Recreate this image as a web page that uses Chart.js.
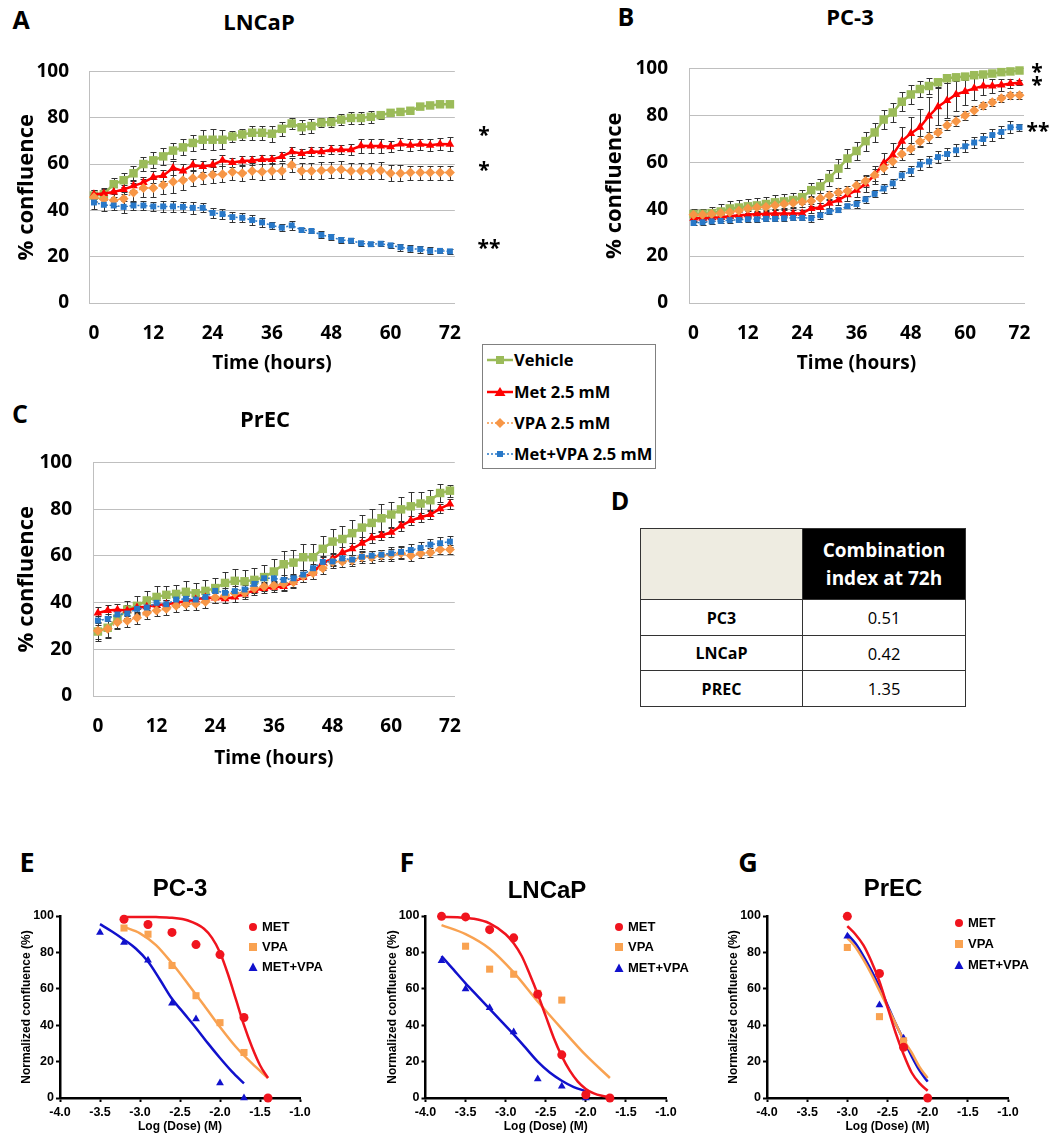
<!DOCTYPE html>
<html><head><meta charset="utf-8">
<script src="https://cdn.jsdelivr.net/npm/chart.js@4.4.1/dist/chart.umd.min.js"></script>
<style>
html,body{margin:0;padding:0;background:#fff}
body{position:relative;width:1056px;height:1139px;overflow:hidden;font-family:"Open Sans",Lato,sans-serif;color:#000}
canvas{position:absolute}
.t{position:absolute;transform:translate(-50%,-50%);line-height:1;white-space:nowrap;font-weight:bold}
.lab{font-size:25px}
.lab2{font-size:27px}
.ttl{font-size:22px}
.gp{font-family:"Liberation Sans",Arial,sans-serif}
.gpt{font-size:24px}
.ast{font-size:21px}
#legABC{position:absolute;left:482px;top:344px;width:172px;height:123px;border:1px solid #808080;background:#fff}
#legABC .row{position:absolute;left:0;height:20px;width:170px}
#legABC svg{position:absolute;left:4px;top:3px}
#legABC span{position:absolute;left:31px;top:0;line-height:20px;font-size:16.5px;font-weight:bold}
.gleg{position:absolute;font-family:"Liberation Sans",Arial,sans-serif;font-weight:bold;font-size:13px}
.gleg .row{position:absolute;left:0;height:16px;width:90px}
.gleg svg{position:absolute;left:-12px;top:1px}
.gleg span{position:absolute;left:3px;top:0;line-height:16px}
#tbl{position:absolute;left:640px;top:528px;border-collapse:collapse;table-layout:fixed}
#tbl td{border:1.5px solid #333;padding:0;text-align:center;vertical-align:middle}
</style></head>
<body>
<canvas id="cA" width="480" height="340" style="left:0;top:40px"></canvas>
<canvas id="cB" width="476" height="344" style="left:580px;top:36px"></canvas>
<canvas id="cC" width="480" height="350" style="left:0;top:430px"></canvas>
<canvas id="cE" width="350" height="239" style="left:0;top:900px"></canvas>
<canvas id="cF" width="350" height="239" style="left:350px;top:900px"></canvas>
<canvas id="cG" width="356" height="239" style="left:700px;top:900px"></canvas>

<div class="t lab" style="left:21px;top:19px">A</div>
<div class="t ttl" style="left:259px;top:21px">LNCaP</div>
<div class="t lab" style="left:626px;top:16px">B</div>
<div class="t ttl" style="left:850px;top:16px">PC-3</div>
<div class="t lab" style="left:20px;top:413px">C</div>
<div class="t ttl" style="left:265px;top:418px">PrEC</div>
<div class="t lab" style="left:620px;top:500px">D</div>
<div class="t lab2" style="left:27px;top:861px">E</div>
<div class="t lab2" style="left:407px;top:861px">F</div>
<div class="t lab2" style="left:748px;top:861px">G</div>
<div class="t gp gpt" style="left:180px;top:888px">PC-3</div>
<div class="t gp gpt" style="left:547px;top:890px">LNCaP</div>
<div class="t gp gpt" style="left:893px;top:888px">PrEC</div>

<div class="t ast" style="left:484px;top:134px">*</div>
<div class="t ast" style="left:484px;top:169px">*</div>
<div class="t ast" style="left:489px;top:247px">**</div>
<div class="t ast" style="left:1037px;top:71px">*</div>
<div class="t ast" style="left:1037px;top:84px">*</div>
<div class="t ast" style="left:1038px;top:130px">**</div>

<div id="legABC">
 <div class="row" style="top:5px"><svg width="26" height="14"><line x1="0" y1="7" x2="26" y2="7" stroke="#9BBB59" stroke-width="2.5"/><rect x="9" y="3" width="8" height="8" fill="#9BBB59"/></svg><span>Vehicle</span></div>
 <div class="row" style="top:37px"><svg width="26" height="14"><line x1="0" y1="7" x2="26" y2="7" stroke="#FF0000" stroke-width="2.5"/><polygon points="13,2 18.5,11 7.5,11" fill="#FF0000"/></svg><span>Met 2.5 mM</span></div>
 <div class="row" style="top:68px"><svg width="26" height="14"><line x1="0" y1="7" x2="26" y2="7" stroke="#F79646" stroke-width="1.5" stroke-dasharray="2,2"/><polygon points="13,2 18,7 13,12 8,7" fill="#F79646"/></svg><span>VPA 2.5 mM</span></div>
 <div class="row" style="top:99px"><svg width="26" height="14"><line x1="0" y1="7" x2="26" y2="7" stroke="#2878C8" stroke-width="1.5" stroke-dasharray="2,2"/><rect x="10" y="4" width="6" height="6" fill="#2878C8"/></svg><span>Met+VPA 2.5 mM</span></div>
</div>

<div class="gleg" style="left:259px;top:919px">
 <div class="row" style="top:0"><svg width="12" height="14"><circle cx="6" cy="7" r="4" fill="#F0141E"/></svg><span>MET</span></div>
 <div class="row" style="top:20px"><svg width="12" height="14"><rect x="2" y="3" width="8" height="8" fill="#F9A251"/></svg><span>VPA</span></div>
 <div class="row" style="top:40px"><svg width="12" height="14"><polygon points="6,2.5 10.5,11 1.5,11" fill="#1111CC"/></svg><span>MET+VPA</span></div>
</div>
<div class="gleg" style="left:625px;top:919px">
 <div class="row" style="top:0"><svg width="12" height="14"><circle cx="6" cy="7" r="4" fill="#F0141E"/></svg><span>MET</span></div>
 <div class="row" style="top:20px"><svg width="12" height="14"><rect x="2" y="3" width="8" height="8" fill="#F9A251"/></svg><span>VPA</span></div>
 <div class="row" style="top:41px"><svg width="12" height="14"><polygon points="6,2.5 10.5,11 1.5,11" fill="#1111CC"/></svg><span>MET+VPA</span></div>
</div>
<div class="gleg" style="left:965px;top:915px">
 <div class="row" style="top:0"><svg width="12" height="14"><circle cx="6" cy="7" r="4" fill="#F0141E"/></svg><span>MET</span></div>
 <div class="row" style="top:21px"><svg width="12" height="14"><rect x="2" y="3" width="8" height="8" fill="#F9A251"/></svg><span>VPA</span></div>
 <div class="row" style="top:42px"><svg width="12" height="14"><polygon points="6,2.5 10.5,11 1.5,11" fill="#1111CC"/></svg><span>MET+VPA</span></div>
</div>

<table id="tbl">
 <tr style="height:71px"><td style="width:161px;background:#EEECE1"></td><td style="width:162px;background:#000;color:#fff;font-weight:bold;font-size:19px;line-height:28px">Combination<br>index at 72h</td></tr>
 <tr style="height:36px"><td style="font-weight:bold;font-size:16px">PC3</td><td style="font-size:16.5px">0.51</td></tr>
 <tr style="height:35px"><td style="font-weight:bold;font-size:16px">LNCaP</td><td style="font-size:16.5px">0.42</td></tr>
 <tr style="height:36px"><td style="font-weight:bold;font-size:16px">PREC</td><td style="font-size:16.5px">1.35</td></tr>
</table>

<script>
// ---------- time-course data (hours) ----------
const hourLabels = ['0','2','4','6','8','10','12','14','16','18','20','22','24','26','28','30','32','34','36','38','40','42','44','46','48','50','52','54','56','58','60','62','64','66','68','70','72'];

// Panel A: LNCaP
const lncapVehicle = [46.4,47,51.3,53,56,60,61.6,63.3,65.8,67.2,69.1,70.5,70.5,70.5,71.9,72.8,73.5,73.5,73.1,75.2,77.5,75.9,76.4,77.9,78.1,79.2,79.9,79.9,80.4,81.1,82.1,82.5,83,84.8,85.3,85.8,85.8];
const lncapVehicleErr = [2.5,2.5,2.5,3,3,3,3.5,3.5,3.5,3.5,3.5,4,4.5,4,2.5,2.5,3,3,3.5,3,2.5,3,3,2,2,2.5,2.5,2.5,2.5,1.5,1,0.8,0.8,0.8,0.8,0.8,0.8];
const lncapMet = [47,47.3,47.9,49,50.6,52,54.3,55,58.3,57,59.6,58.9,59.6,61.6,60.7,61.3,61.5,62,62,63.3,65.3,64.6,65.4,65.3,66.2,66.2,66.2,67.9,67.8,67.8,67.5,68.6,68.1,68.5,68.1,68.6,68.5];
const lncapMetErr = [2,2,2,2,2,2.5,2.5,2.5,3,3,2.5,2.5,2.5,2.5,2,2,2,2,2,2,2,2,2,2,2,2,2.5,3,3,3,2.5,2.5,2.5,2.5,2.5,2.5,3];
const lncapVpa = [45.7,44.8,44.4,45,47.7,49.7,49.7,51,52.3,53,53.9,54.7,55.4,55.6,56.6,56,57,56.7,57,57,59.6,57,57,57.2,57.4,57.6,57,57,57,57.2,56,56,56.3,56.3,56.3,56.3,56.3];
const lncapVpaErr = [2,2.5,2.5,3,4,4,4,4,5,4,3.5,3.5,3.5,3.5,3.5,3.5,3.5,3.5,3.5,3.5,3,3.5,3.5,3.5,3.5,3.5,3.5,3.5,3.5,3.5,3.5,3.5,3,3,3,3,3];
const lncapCombo = [43.4,42.4,42.1,41.5,42.1,42.1,41.7,41.7,41.7,41.5,41.1,41.1,38.9,38.4,37.1,36.8,35.8,34.8,33.5,32.5,33.5,31.5,31.1,29.4,28.5,27.2,26.9,25.8,25.4,25.6,24.9,24.1,23.4,23.2,22.5,22.5,22.3];
const lncapComboErr = [3,2.5,2,2.5,2,2,2,2.5,2.5,2,2.5,2,2,2,2,2,2,2,1.5,1.5,2,1,1,1.5,1.5,1.5,1,1,1,1,1,1.5,1.5,1.5,1.5,1,1];

// Panel B: PC-3
const pc3Vehicle = [37.9,38,38.3,39,40.3,40.7,41.2,41.6,42.2,42.9,43.3,43.9,45.1,48.1,49.7,53.3,57.3,61.6,64.8,69,72.7,78.2,81.2,85.8,88.9,91.2,92.5,94.1,95.8,96.2,96.5,97.1,97.4,97.8,98.4,98.7,99.1];
const pc3VehicleErr = [2,2,2.5,3,3,3,3,3,3,3,3,3,3,3,3,3.5,4,4,4,4,4,4,4,4,4,3.5,3.5,2,2,1.5,1.5,1,1,1,1,1,1];
const pc3Met = [36.1,36.1,36.3,36.6,37,37.4,37.6,37.9,38,38.2,38.2,38.2,38.3,40.3,40.7,42.5,43.9,46.1,48.1,50.7,54.6,59.6,63.1,69,72.3,74.9,79.7,83.7,86.3,88.9,90.2,91.5,92.5,92.5,92.9,93.6,93.9];
const pc3MetErr = [1.5,1.5,1.5,1.5,1.5,1.5,1.5,1.5,1.5,1.5,1.5,1.5,1.5,2,2,2,2,2.5,3,3.5,4,4.5,5,6,7,8,8,8,7.5,7,6,5,4,3,2.5,2,1];
const pc3Vpa = [37.6,37.6,37.9,38.3,38.7,39.3,40.3,40.7,40.9,41.6,42.2,42.6,43.1,43.5,44.7,45.8,47.1,47.7,50.1,52,54.6,57.5,60.3,63.5,65.8,68.8,70.6,72.7,75.8,77.5,79.9,82.1,84.1,85.6,87.3,88.4,88.6];
const pc3VpaErr = [2,2,2,2,2,2,2,2,2,2,2,2,2,2,2,2,2,2,2.5,2.5,2.5,2.5,2.5,2.5,2.5,2.5,2.5,2,2,2,2,2,1.5,1.5,1.5,1.5,1.5];
const pc3Combo = [34.1,34.4,34.8,35,35.3,35.4,35.7,35.7,35.9,35.9,36.1,36.3,36.3,36.1,37.4,39,39.6,41.3,42.2,44.2,46.5,48.8,51,54.4,56.3,59,60.3,62.2,63.5,65.1,66.8,68.4,69.9,71.6,72.9,74.9,74.9];
const pc3ComboErr = [1,1,1,1,1,1,1,1,1,1,1,1,1,1.5,1.5,1,1,1,1.5,1.5,1.5,2,2,2,2,2.5,2.5,2.5,2.5,2.5,2.5,2.5,2.5,2.5,2.5,2.5,1.5];

// Panel C: PrEC
const precVehicle = [27.6,29.2,33.2,37,38.6,40.9,42.4,43.3,43.7,44.6,44,45,46.2,48.4,49.3,49.1,49.7,50.9,53.3,56.4,57.1,59.4,59.4,63,66.1,67.2,69.7,72.1,74.1,76.1,77.7,79.9,81.2,82.4,83.8,86.9,87.9];
const precVehicleErr = [4,4.5,4,3.5,4,4,4.5,4,4,4.5,4.5,4.5,4.5,4.5,5,5,5,5,5.5,5.5,5.5,5.5,5.5,5.5,5.5,5.5,5.5,5.5,6,6,5.5,5.5,6,5,4.5,4,2.5];
const precMet = [35.5,36.6,36.9,36.6,37.9,38.2,39,39.3,39.9,40.6,41.3,42.2,42,41.6,42.4,43.7,45.3,46,46.6,46.9,48.7,50.9,52.7,57.1,58.7,61.4,63,65.4,67.7,68.7,70.1,72.8,75.1,76.5,77.7,80.2,82.2];
const precMetErr = [2.5,2.5,2.5,2.5,2.5,2,2,2,2,2,2,2,2,2,2,2,2,2,2,2,2,2,2.5,3,2.5,2.5,2.5,2.5,2,2,2,2,2,2,2,2,2];
const precVpa = [27.9,28.8,31.6,32.2,33.5,35.5,36.6,37.3,38.6,39.3,39.5,40.3,42.2,42.9,44,44.2,46,46.9,47.3,48,48.7,51.3,52.7,54.7,57.4,57.6,58,59.4,59.4,60.1,60.5,61.1,60.1,61,61.4,62.7,62.7];
const precVpaErr = [3.5,3.5,3,2.5,2.5,2.5,2.5,2.5,2.5,2.5,2.5,2.5,2.5,2,2,2,2,2,2,2.5,2.5,2.5,2.5,2.5,2.5,2.5,2.5,2.5,2.5,2.5,2.5,2.5,2.5,2,2,2,2];
const precCombo = [32.3,33,34.9,35.3,37.3,37.9,39.9,39.3,41.3,41.6,41.3,42.4,45,44.2,44.9,45.6,48,50.4,50.4,49.7,50.4,52,54.7,57.4,57.6,58.9,58.4,59.6,60.1,60.5,61.1,61.7,62.5,63.4,64.8,65.4,66.1];
const precComboErr = [2,2,2,2,2,2,2,2,2,2,2,2,2,2,2,2,2,2,2,2,2,2,2,2,2,2,2,2,2,2,2.5,2.5,2.5,2.5,2.5,2.5,2.5];

// ---------- dose-response data ----------
const doseTicks = [-4.0,-3.5,-3.0,-2.5,-2.0,-1.5,-1.0];
// E: PC-3
const pc3MetDose = [-3.2,-2.9,-2.6,-2.3,-2.0,-1.7,-1.4];
const pc3MetResp = [98.2,95.3,91,84.3,78.8,44.2,0];
const pc3VpaDose = [-3.2,-2.9,-2.6,-2.3,-2.0,-1.7];
const pc3VpaResp = [93.4,90,72.8,56.2,41.4,25];
const pc3ComboDose = [-3.5,-3.2,-2.9,-2.6,-2.3,-2.0,-1.7];
const pc3ComboResp = [91,85.4,75.7,52,43.4,8.2,0];
const pc3MetFitX = [-3.2,-3.0,-2.8,-2.6,-2.4,-2.2,-2.1,-2.0,-1.9,-1.8,-1.7,-1.6,-1.5,-1.4];
const pc3MetFitY = [99.5,99.5,99.4,99,97.5,93,88,80,68,54,40,28,18,11];
const pc3VpaFitX = [-3.2,-3.0,-2.8,-2.6,-2.4,-2.2,-2.0,-1.8,-1.6,-1.4];
const pc3VpaFitY = [94,90.5,84,74,62.7,51,39,28,19,11];
const pc3ComboFitX = [-3.5,-3.35,-3.2,-3.05,-2.9,-2.75,-2.6,-2.45,-2.3,-2.15,-2.0,-1.85,-1.7];
const pc3ComboFitY = [95.5,91.5,87,82,75,65,54.5,46.5,38.5,30,22,14.5,8];
// F: LNCaP
const lncapMetDose = [-3.8,-3.5,-3.2,-2.9,-2.6,-2.3,-2.0,-1.7];
const lncapMetResp = [99.8,99.5,92.5,88,57,23.7,1.8,0];
const lncapVpaDose = [-3.5,-3.2,-2.9,-2.6,-2.3];
const lncapVpaResp = [83.4,70.8,68,57.5,53.8];
const lncapComboDose = [-3.8,-3.5,-3.2,-2.9,-2.6,-2.3,-2.0];
const lncapComboResp = [75.4,59.9,49.6,36.3,10.4,6.4,0];
const lncapMetFitX = [-3.8,-3.6,-3.4,-3.2,-3.0,-2.9,-2.8,-2.7,-2.6,-2.5,-2.4,-2.3,-2.2,-2.1,-2.0,-1.9,-1.8,-1.7];
const lncapMetFitY = [99.5,99.3,98.5,96,90,85,78,68,57,45,33,23,15,9,5,2.5,1.2,0.5];
const lncapVpaFitX = [-3.8,-3.5,-3.2,-2.9,-2.6,-2.3,-2.0,-1.7];
const lncapVpaFitY = [95,90,82,69,53,38,23.5,11];
const lncapComboFitX = [-3.8,-3.65,-3.5,-3.35,-3.2,-3.05,-2.9,-2.75,-2.6,-2.45,-2.3,-2.15,-2.0];
const lncapComboFitY = [78,70.5,63,56,49,42,35,27.5,20,14,9.5,6,3.8];
// G: PrEC
const precMetDose = [-3.0,-2.6,-2.3,-2.0];
const precMetResp = [99.8,68.4,27.9,0];
const precVpaDose = [-3.0,-2.6,-2.3];
const precVpaResp = [82.7,44.7,31.4];
const precComboDose = [-3.0,-2.6,-2.3];
const precComboResp = [88.9,51.1,32.8];
const precFitX = [-3.0,-2.9,-2.8,-2.7,-2.6,-2.5,-2.4,-2.3,-2.2,-2.1,-2.0];
const precMetFitY = [94.5,90,84,75,64,50,36,24,14,8,4];
const precVpaFitY = [88,83,76,68,59,50,41,32,25,17,11];
const precComboFitY = [90,85,78,70,61,51,41,32,23,15,9];

// ---------- plugins / helpers ----------
const errorBars = {
  id: 'errorBars',
  beforeDatasetsDraw(chart) {
    const ctx = chart.ctx, ys = chart.scales.y;
    chart.data.datasets.forEach((ds, i) => {
      if (!ds.errors) return;
      const meta = chart.getDatasetMeta(i);
      ctx.save();
      ctx.strokeStyle = '#333'; ctx.lineWidth = 1;
      meta.data.forEach((pt, j) => {
        const v = ds.data[j], e = ds.errors[j];
        const x = Math.round(pt.x) + 0.5;
        const y1 = Math.round(ys.getPixelForValue(v + e)) + 0.5;
        const y2 = Math.round(ys.getPixelForValue(v - e)) + 0.5;
        ctx.beginPath();
        ctx.moveTo(x, y1); ctx.lineTo(x, y2);
        ctx.moveTo(x - 3, y1); ctx.lineTo(x + 3, y1);
        ctx.moveTo(x - 3, y2); ctx.lineTo(x + 3, y2);
        ctx.stroke();
      });
      ctx.restore();
    });
  }
};

const GREEN = '#9BBB59', RED = '#FF0000', ORANGE = '#F79646', BLUE = '#2878C8';
function timeSeries(vals, errs, kind) {
  const base = { data: vals, errors: errs, fill: false, tension: 0, clip: false };
  if (kind === 'veh') return Object.assign(base, { borderColor: GREEN, backgroundColor: GREEN, borderWidth: 2.5, pointStyle: 'rect', pointRadius: 6, pointBorderWidth: 0, order: 4 });
  if (kind === 'met') return Object.assign(base, { borderColor: RED, backgroundColor: RED, borderWidth: 2.5, pointStyle: 'triangle', pointRadius: 5, pointBorderWidth: 0, order: 3 });
  if (kind === 'vpa') return Object.assign(base, { borderColor: ORANGE, backgroundColor: ORANGE, borderWidth: 1.5, borderDash: [2, 2], pointStyle: 'rectRot', pointRadius: 5, pointBorderWidth: 0, order: 2 });
  return Object.assign(base, { borderColor: BLUE, backgroundColor: BLUE, borderWidth: 1.5, borderDash: [2, 2], pointStyle: 'rect', pointRadius: 4.2, pointBorderWidth: 0, order: 1 });
}

function timeChart(id, sets, g) {
  const boldF = (s) => ({ family: 'Open Sans', weight: 'bold', size: s });
  new Chart(document.getElementById(id), {
    type: 'line',
    data: { labels: hourLabels, datasets: sets },
    options: {
      responsive: false, animation: false, events: [],
      layout: { padding: { left: g.pl, top: g.pt, right: g.pr, bottom: 0 } },
      plugins: { legend: { display: false }, tooltip: { enabled: false }, title: { display: false } },
      scales: {
        x: {
          type: 'category', offset: true,
          grid: { display: false, drawTicks: false },
          border: { display: true, color: '#BFBFBF', width: 1 },
          ticks: { autoSkip: false, maxRotation: 0, padding: g.xtp, color: '#000', font: boldF(19),
            callback(v) { const l = this.getLabelForValue(v); return (+l) % 12 === 0 ? l : ''; } },
          title: { display: true, text: 'Time (hours)', color: '#000', font: boldF(19), padding: { top: 0, bottom: g.xtb } },
          afterFit(s) { s.height = g.xh; }
        },
        y: {
          min: 0, max: 100,
          grid: { color: '#BFBFBF', drawTicks: false, lineWidth: 1 },
          border: { display: true, color: '#BFBFBF', width: 1 },
          ticks: { stepSize: 20, padding: g.ytp, color: '#000', font: boldF(19) },
          title: { display: true, text: '% confluence', color: '#000', font: boldF(22), padding: { top: 0, bottom: 0 } },
          afterFit(s) { s.width = g.yw; }
        }
      }
    },
    plugins: [errorBars]
  });
}

timeChart('cA', [
  timeSeries(lncapVehicle, lncapVehicleErr, 'veh'),
  timeSeries(lncapMet, lncapMetErr, 'met'),
  timeSeries(lncapVpa, lncapVpaErr, 'vpa'),
  timeSeries(lncapCombo, lncapComboErr, 'combo')
], { pl: 14, pt: 12, pr: 17, yw: 75, xh: 77, xtp: 19, xtb: 5, ytp: 20 });

timeChart('cB', [
  timeSeries(pc3Vehicle, pc3VehicleErr, 'veh'),
  timeSeries(pc3Met, pc3MetErr, 'met'),
  timeSeries(pc3Vpa, pc3VpaErr, 'vpa'),
  timeSeries(pc3Combo, pc3ComboErr, 'combo')
], { pl: 22, pt: 12, pr: 32, yw: 87, xh: 77, xtp: 19, xtb: 5, ytp: 21 });

timeChart('cC', [
  timeSeries(precVehicle, precVehicleErr, 'veh'),
  timeSeries(precMet, precMetErr, 'met'),
  timeSeries(precVpa, precVpaErr, 'vpa'),
  timeSeries(precCombo, precComboErr, 'combo')
], { pl: 14, pt: 17, pr: 17, yw: 79, xh: 84, xtp: 19, xtb: 10, ytp: 21 });

// ---------- dose-response charts ----------
const GRED = '#F0141E', GORANGE = '#F9A251', GBLUE = '#1111CC';
const pts = (xs, ys) => xs.map((x, i) => ({ x: x, y: ys[i] }));
function doseChart(id, d, g) {
  const boldA = (s) => ({ family: 'Liberation Sans', weight: 'bold', size: s });
  const curve = (data, c) => ({ data, showLine: true, borderColor: c, borderWidth: 2.5, pointRadius: 0, fill: false, cubicInterpolationMode: 'monotone', clip: false, order: 2 });
  const dots = (data, c, style, r) => ({ data, showLine: false, backgroundColor: c, borderColor: c, pointStyle: style, pointRadius: r, pointBorderWidth: 0, clip: false, order: 1 });
  new Chart(document.getElementById(id), {
    type: 'scatter',
    data: { datasets: [
      curve(d.metFit, GRED), curve(d.vpaFit, GORANGE), curve(d.comboFit, GBLUE),
      dots(d.met, GRED, 'circle', 4.5), dots(d.vpa, GORANGE, 'rect', 5), dots(d.combo, GBLUE, 'triangle', 4.5)
    ] },
    options: {
      responsive: false, animation: false, events: [],
      layout: { padding: { left: g.pl, top: 16, right: g.pr, bottom: 0 } },
      plugins: { legend: { display: false }, tooltip: { enabled: false } },
      scales: {
        x: {
          type: 'linear', min: -4, max: -1,
          afterBuildTicks(s) { s.ticks = doseTicks.map(v => ({ value: v })); },
          grid: { display: true, drawOnChartArea: false, drawTicks: true, tickLength: 4, tickWidth: 2, color: '#000' },
          border: { display: true, color: '#000', width: 2.5 },
          ticks: { autoSkip: false, maxRotation: 0, padding: 3, color: '#000', font: boldA(12.5), callback: v => Number(v).toFixed(1) },
          title: { display: true, text: 'Log (Dose) (M)', color: '#000', font: boldA(12), padding: { top: 0, bottom: 5 } },
          afterFit(s) { s.height = 41; }
        },
        y: {
          min: 0, max: 100,
          grid: { display: true, drawOnChartArea: false, drawTicks: true, tickLength: 4, tickWidth: 2, color: '#000' },
          border: { display: true, color: '#000', width: 2.5 },
          ticks: { stepSize: 20, padding: 2, color: '#000', font: boldA(12.5) },
          title: { display: true, text: 'Normalized confluence (%)', color: '#000', font: boldA(12), padding: { top: 5.5, bottom: 0 } },
          afterFit(s) { s.width = 46; }
        }
      }
    }
  });
}

doseChart('cE', {
  met: pts(pc3MetDose, pc3MetResp), vpa: pts(pc3VpaDose, pc3VpaResp), combo: pts(pc3ComboDose, pc3ComboResp),
  metFit: pts(pc3MetFitX, pc3MetFitY), vpaFit: pts(pc3VpaFitX, pc3VpaFitY), comboFit: pts(pc3ComboFitX, pc3ComboFitY)
}, { pl: 14, pr: 50 });
doseChart('cF', {
  met: pts(lncapMetDose, lncapMetResp), vpa: pts(lncapVpaDose, lncapVpaResp), combo: pts(lncapComboDose, lncapComboResp),
  metFit: pts(lncapMetFitX, lncapMetFitY), vpaFit: pts(lncapVpaFitX, lncapVpaFitY), comboFit: pts(lncapComboFitX, lncapComboFitY)
}, { pl: 29.5, pr: 34 });
doseChart('cG', {
  met: pts(precMetDose, precMetResp), vpa: pts(precVpaDose, precVpaResp), combo: pts(precComboDose, precComboResp),
  metFit: pts(precFitX, precMetFitY), vpaFit: pts(precFitX, precVpaFitY), comboFit: pts(precFitX, precComboFitY)
}, { pl: 21, pr: 48 });
</script>
</body></html>
